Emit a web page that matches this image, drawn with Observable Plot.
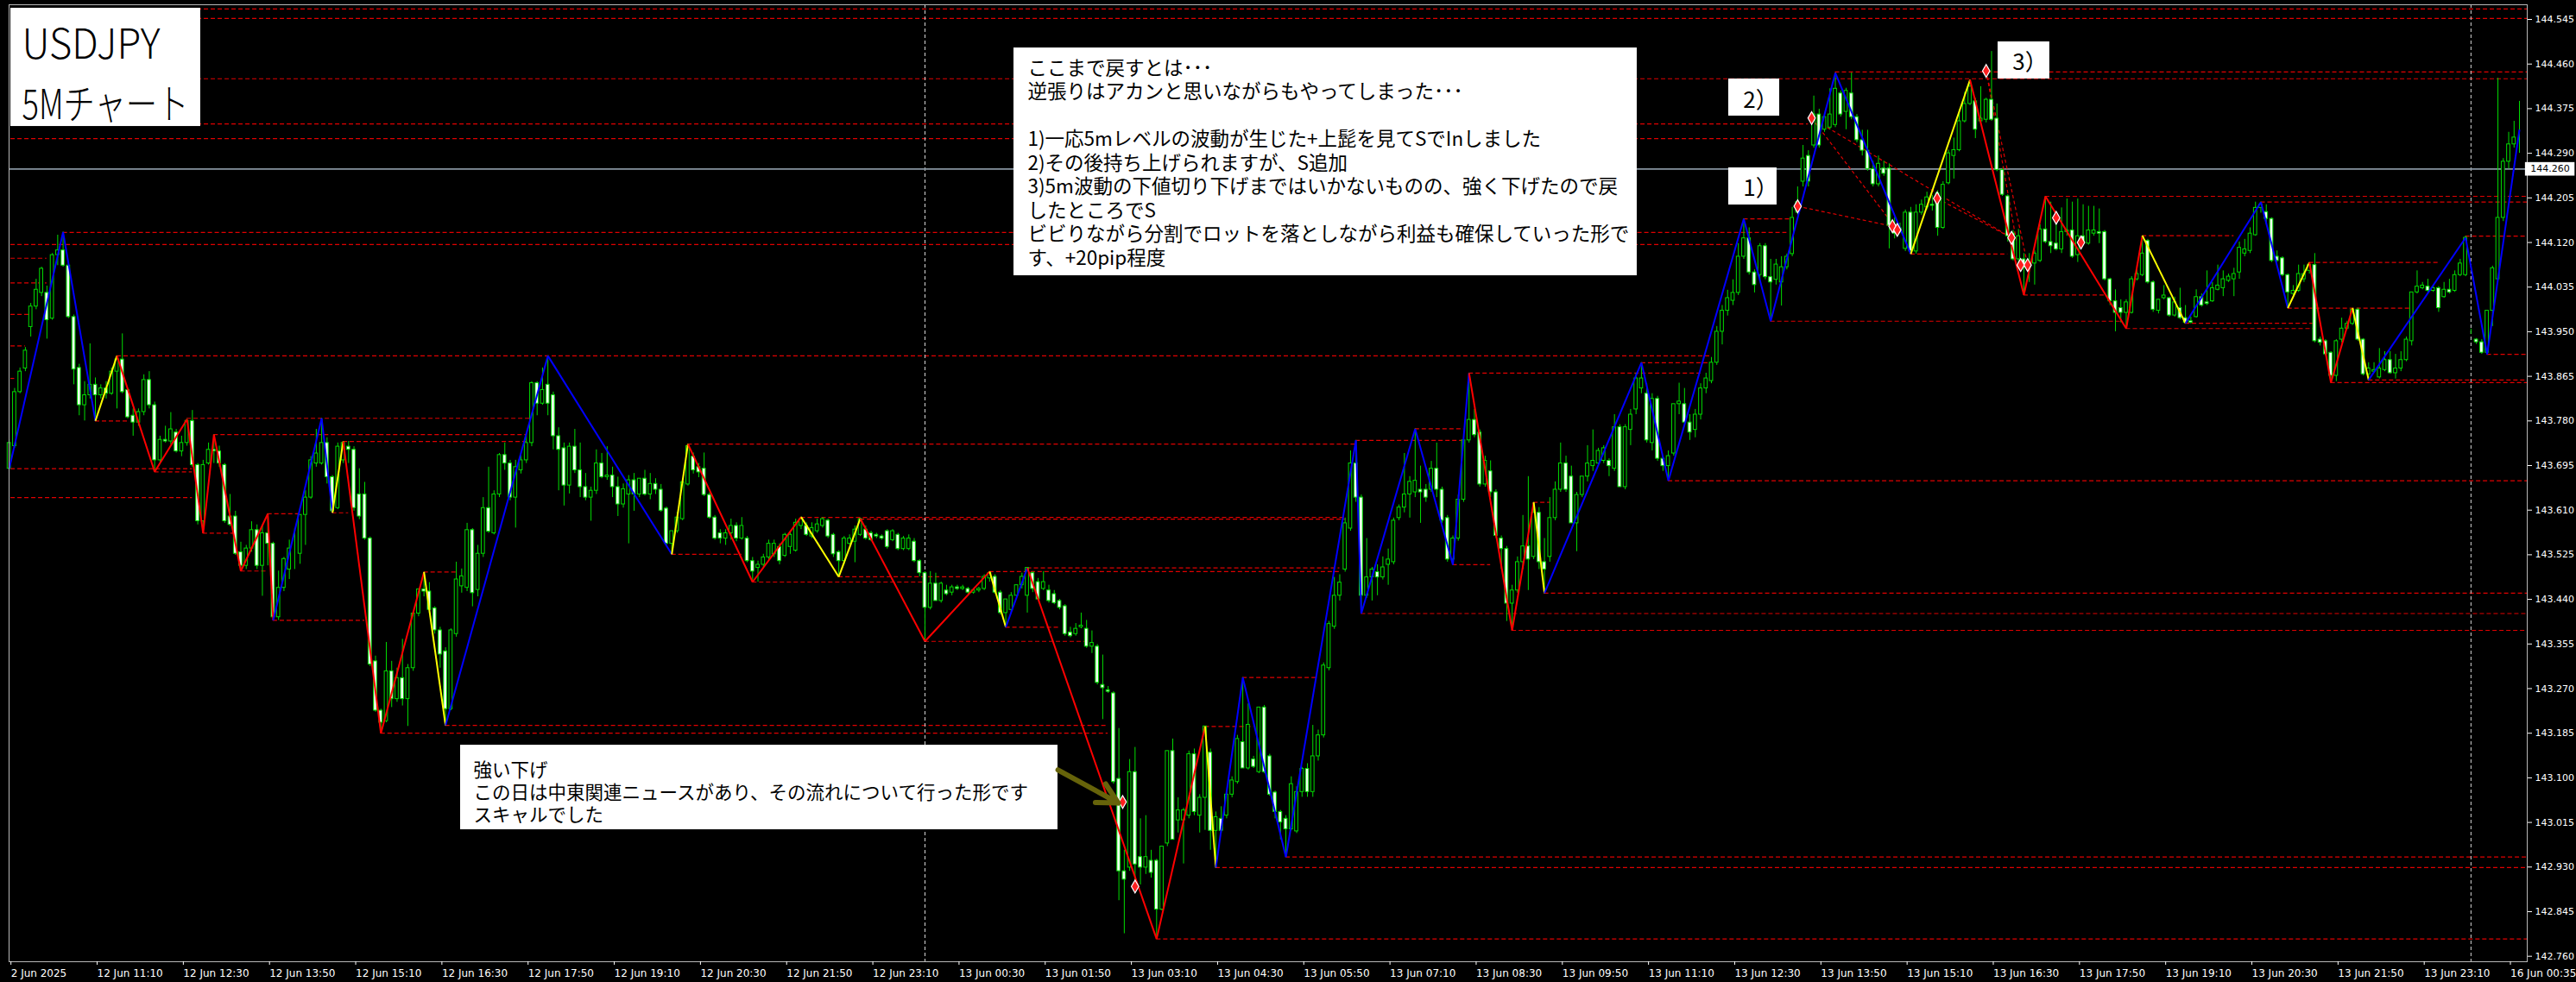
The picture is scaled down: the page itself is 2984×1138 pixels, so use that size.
<!DOCTYPE html>
<html><head><meta charset="utf-8">
<script src="https://cdn.jsdelivr.net/npm/d3@7"></script>
<script src="https://cdn.jsdelivr.net/npm/@observablehq/plot@0.6"></script>
<style>html,body{margin:0;padding:0;background:#000;overflow:hidden}</style>
</head><body><div id="chart"></div>
<script>
// ---- 5-minute USDJPY candles: [open, high, low, close] ----
const ohlc = [
[143.689,143.744,143.689,143.738],[143.732,143.842,143.728,143.835],[143.835,143.881,143.832,143.874],[143.880,143.920,143.874,143.914],[143.959,144.004,143.940,143.998],
[143.998,144.050,143.992,144.030],[144.024,144.073,144.017,144.070],[144.024,144.037,143.936,143.972],[143.975,144.099,143.972,144.096],[144.096,144.134,144.076,144.105],
[144.105,144.140,144.073,144.076],[144.076,144.079,143.975,143.978],[143.978,143.982,143.849,143.878],[143.881,143.888,143.790,143.810],[143.810,143.855,143.780,143.829],
[143.829,143.927,143.822,143.849],[143.849,143.862,143.780,143.829],[143.829,143.849,143.822,143.842],[143.842,143.855,143.822,143.832],[143.832,143.881,143.829,143.874],
[143.874,143.904,143.803,143.897],[143.897,143.946,143.832,143.835],[143.839,143.842,143.784,143.787],[143.790,143.803,143.751,143.777],[143.777,143.803,143.770,143.797],
[143.797,143.868,143.790,143.858],[143.858,143.874,143.803,143.810],[143.810,143.816,143.683,143.705],[143.705,143.751,143.699,143.744],[143.744,143.770,143.738,143.741],
[143.741,143.796,143.735,143.764],[143.758,143.764,143.719,143.722],[143.722,143.751,143.712,143.738],[143.738,143.783,143.732,143.780],[143.780,143.800,143.692,143.696],
[143.696,143.699,143.582,143.589],[143.589,143.705,143.566,143.696],[143.699,143.738,143.696,143.725],[143.725,143.754,143.699,143.722],[143.722,143.732,143.692,143.699],
[143.696,143.699,143.585,143.589],[143.598,143.640,143.579,143.582],[143.598,143.608,143.524,143.527],[143.530,143.549,143.494,143.504],[143.504,143.543,143.497,143.537],
[143.537,143.588,143.530,143.572],[143.572,143.582,143.497,143.504],[143.504,143.582,143.446,143.566],[143.566,143.603,143.504,143.546],[143.546,143.549,143.400,143.406],
[143.406,143.494,143.400,143.462],[143.462,143.520,143.455,143.517],[143.497,143.553,143.478,143.537],[143.533,143.575,143.497,143.533],[143.527,143.601,143.507,143.601],
[143.601,143.647,143.543,143.634],[143.634,143.712,143.631,143.705],[143.699,143.764,143.692,143.718],[143.699,143.785,143.696,143.738],[143.738,143.748,143.660,143.673],
[143.673,143.676,143.605,143.608],[143.614,143.738,143.611,143.731],[143.705,143.741,143.699,143.738],[143.731,143.741,143.699,143.725],[143.725,143.731,143.608,143.614],
[143.640,143.689,143.592,143.598],[143.640,143.663,143.553,143.556],[143.556,143.559,143.312,143.316],[143.322,143.332,143.225,143.228],[143.228,143.231,143.185,143.205],
[143.208,143.358,143.205,143.303],[143.303,143.322,143.234,143.250],[143.250,143.309,143.244,143.290],[143.290,143.364,143.237,143.250],[143.250,143.316,143.198,143.309],
[143.309,143.413,143.303,143.413],[143.413,143.459,143.407,143.459],[143.459,143.492,143.445,143.455],[143.455,143.472,143.413,143.420],[143.423,143.426,143.374,143.381],
[143.381,143.387,143.309,143.335],[143.341,143.348,143.200,143.231],[143.231,143.384,143.228,143.381],[143.374,143.511,143.368,143.478],[143.465,143.498,143.452,143.484],
[143.462,143.585,143.455,143.572],[143.572,143.575,143.426,143.452],[143.458,143.543,143.445,143.527],[143.527,143.634,143.520,143.614],[143.614,143.692,143.566,143.569],
[143.566,143.647,143.563,143.640],[143.640,143.718,143.634,143.715],[143.715,143.738,143.686,143.699],[143.699,143.705,143.628,143.634],[143.634,143.705,143.576,143.692],
[143.686,143.718,143.679,143.705],[143.705,143.757,143.699,143.738],[143.738,143.855,143.731,143.852],[143.852,143.855,143.790,143.813],[143.813,143.881,143.810,143.839],
[143.849,143.904,143.790,143.813],[143.829,143.835,143.725,143.751],[143.751,143.767,143.647,143.725],[143.728,143.738,143.618,143.657],[143.657,143.738,143.641,143.731],
[143.731,143.764,143.680,143.686],[143.686,143.738,143.634,143.654],[143.654,143.680,143.628,143.634],[143.634,143.654,143.589,143.647],[143.647,143.725,143.640,143.699],
[143.699,143.718,143.670,143.673],[143.673,143.731,143.667,143.676],[143.676,143.692,143.634,143.654],[143.654,143.673,143.598,143.621],[143.621,143.660,143.614,143.650],
[143.640,143.676,143.546,143.667],[143.667,143.680,143.608,143.640],[143.640,143.670,143.634,143.670],[143.670,143.686,143.637,143.640],[143.640,143.680,143.630,143.660],
[143.660,143.670,143.640,143.649],[143.649,143.659,143.606,143.609],[143.613,143.616,143.543,143.546],[143.546,143.570,143.526,143.570],[143.570,143.606,143.566,143.596],
[143.593,143.669,143.590,143.663],[143.659,143.736,143.656,143.732],[143.712,143.719,143.679,143.686],[143.692,143.699,143.672,143.682],[143.689,143.719,143.636,143.639],
[143.639,143.643,143.593,143.596],[143.596,143.600,143.553,143.556],[143.566,143.573,143.546,143.556],[143.556,143.573,143.543,143.566],[143.566,143.593,143.553,143.580],
[143.580,143.586,143.550,143.556],[143.556,143.596,143.553,143.580],[143.556,143.560,143.510,143.513],[143.513,143.520,143.473,143.493],[143.500,143.513,143.473,143.506],
[143.506,143.526,143.500,143.520],[143.520,143.553,143.513,143.546],[143.526,143.553,143.520,143.546],[143.540,143.546,143.506,143.513],[143.523,143.566,143.520,143.563],
[143.540,143.570,143.526,143.563],[143.533,143.593,143.530,143.586],[143.580,143.597,143.573,143.593],[143.580,143.586,143.560,143.563],[143.560,143.586,143.556,143.576],
[143.570,143.593,143.566,143.583],[143.580,143.596,143.576,143.593],[143.590,143.593,143.556,143.560],[143.563,143.566,143.520,143.526],[143.530,143.533,143.483,143.513],
[143.513,143.560,143.506,143.556],[143.546,143.563,143.543,143.556],[143.550,143.580,143.510,143.573],[143.563,143.594,143.560,143.593],[143.573,143.580,143.553,143.556],
[143.566,143.570,143.550,143.553],[143.563,143.566,143.556,143.560],[143.560,143.563,143.553,143.556],[143.570,143.573,143.536,143.540],[143.553,143.573,143.550,143.570],
[143.563,143.566,143.533,143.536],[143.536,143.560,143.533,143.556],[143.536,143.563,143.533,143.556],[143.550,143.556,143.510,143.513],[143.513,143.516,143.483,143.490],
[143.490,143.493,143.360,143.424],[143.424,143.493,143.420,143.470],[143.470,143.490,143.437,143.437],[143.437,143.473,143.433,143.470],[143.457,143.467,143.447,143.450],
[143.453,143.467,143.447,143.463],[143.463,143.467,143.457,143.460],[143.460,143.467,143.457,143.463],[143.460,143.463,143.450,143.453],[143.453,143.460,143.450,143.457],
[143.457,143.463,143.453,143.460],[143.460,143.487,143.457,143.483],[143.480,143.493,143.473,143.490],[143.483,143.487,143.450,143.453],[143.453,143.457,143.410,143.414],
[143.414,143.440,143.387,143.440],[143.420,143.453,143.414,143.447],[143.447,143.467,143.440,143.467],[143.467,143.490,143.460,143.483],[143.447,143.500,143.414,143.500],
[143.490,143.493,143.453,143.460],[143.473,143.480,143.437,143.440],[143.460,143.493,143.457,143.473],[143.457,143.467,143.433,143.437],[143.450,143.457,143.430,143.433],
[143.437,143.440,143.420,143.424],[143.427,143.430,143.370,143.374],[143.377,143.387,143.367,143.370],[143.374,143.394,143.370,143.384],[143.387,143.414,143.384,143.390],
[143.384,143.400,143.347,143.350],[143.350,143.380,143.337,143.357],[143.350,143.354,143.277,143.281],[143.277,143.334,143.211,143.271],[143.267,143.274,143.261,143.264],
[143.261,143.264,143.088,143.092],[143.098,143.194,142.866,142.922],[142.922,142.962,142.803,142.906],[142.929,143.135,142.922,143.111],[143.111,143.158,142.902,142.935],
[142.949,143.022,142.896,142.929],[142.929,143.028,142.916,142.949],[142.942,142.962,142.909,142.919],[142.942,142.945,142.793,142.849],[142.849,142.969,142.846,142.969],
[142.975,143.151,142.969,143.151],[143.151,143.174,142.982,142.982],[143.019,143.062,142.995,143.038],[143.019,143.042,142.936,143.038],[143.028,143.151,143.022,143.145],
[143.145,143.155,143.028,143.035],[143.028,143.068,142.995,143.062],[143.062,143.198,143.000,143.198],[143.148,143.155,142.962,142.999],[142.999,143.035,142.929,143.025],
[143.022,143.045,142.995,142.999],[143.028,143.075,143.022,143.068],[143.068,143.102,143.062,143.095],[143.092,143.181,143.088,143.174],[143.168,143.291,143.118,143.118],
[143.118,143.241,143.115,143.201],[143.135,143.141,143.118,143.121],[143.111,143.234,143.108,143.234],[143.234,143.238,143.108,143.111],[143.141,143.145,143.065,143.068],
[143.072,143.075,143.022,143.035],[143.035,143.038,142.982,143.015],[143.022,143.028,142.949,143.002],[143.002,143.102,142.999,143.088],[142.998,143.083,142.994,143.073],
[143.073,143.120,143.063,143.117],[143.117,143.127,143.063,143.073],[143.073,143.200,143.063,143.141],[143.141,143.191,143.132,143.181],[143.181,143.319,143.176,143.314],
[143.309,143.398,143.304,143.393],[143.388,143.482,143.383,143.447],[143.447,143.487,143.437,143.472],[143.497,143.595,143.492,143.585],[143.575,143.723,143.570,143.699],
[143.699,143.743,143.625,143.634],[143.634,143.639,143.413,143.447],[143.447,143.556,143.442,143.482],[143.482,143.501,143.437,143.497],[143.492,143.506,143.447,143.482],
[143.482,143.521,143.477,143.501],[143.506,143.536,143.467,143.516],[143.511,143.595,143.506,143.590],[143.595,143.620,143.590,143.615],[143.615,143.718,143.605,143.640],
[143.640,143.674,143.595,143.664],[143.644,143.765,143.634,143.666],[143.649,143.694,143.585,143.644],[143.649,143.659,143.625,143.634],[143.649,143.703,143.644,143.689],
[143.689,143.738,143.634,143.649],[143.649,143.654,143.585,143.590],[143.595,143.600,143.511,143.516],[143.516,143.561,143.506,143.556],[143.556,143.639,143.551,143.630],
[143.630,143.748,143.625,143.743],[143.743,143.871,143.738,143.782],[143.782,143.802,143.748,143.753],[143.758,143.763,143.654,143.659],[143.659,143.713,143.654,143.704],
[143.684,143.704,143.634,143.644],[143.644,143.649,143.556,143.561],[143.556,143.561,143.497,143.536],[143.536,143.541,143.398,143.432],[143.432,143.467,143.381,143.457],
[143.457,143.521,143.452,143.511],[143.511,143.600,143.497,143.541],[143.541,143.674,143.457,143.516],[143.521,143.625,143.516,143.605],[143.605,143.615,143.497,143.511],
[143.511,143.556,143.452,143.497],[143.521,143.634,143.511,143.595],[143.595,143.664,143.590,143.649],[143.649,143.738,143.644,143.699],[143.699,143.713,143.644,143.649],
[143.674,143.694,143.585,143.585],[143.585,143.644,143.531,143.639],[143.639,143.674,143.634,143.674],[143.674,143.733,143.664,143.699],[143.694,143.763,143.684,143.704],
[143.699,143.728,143.694,143.723],[143.704,143.733,143.699,143.728],[143.704,143.708,143.674,143.694],[143.689,143.792,143.684,143.768],[143.768,143.773,143.654,143.654],
[143.654,143.773,143.649,143.768],[143.763,143.802,143.733,143.792],[143.802,143.871,143.792,143.861],[143.842,143.891,143.832,143.861],[143.832,143.851,143.738,143.743],
[143.738,143.832,143.723,143.822],[143.822,143.827,143.703,143.708],[143.708,143.713,143.684,143.694],[143.694,143.723,143.666,143.713],[143.718,143.812,143.713,143.812],
[143.812,143.852,143.792,143.817],[143.812,143.842,143.773,143.777],[143.777,143.792,143.743,143.758],[143.763,143.802,143.748,143.792],[143.792,143.851,143.782,143.842],
[143.842,143.871,143.832,143.861],[143.856,143.901,143.851,143.891],[143.891,143.960,143.886,143.950],[143.950,144.000,143.925,143.990],[143.990,144.029,143.980,144.014],
[144.009,144.049,144.000,144.024],[144.024,144.118,144.019,144.093],[144.093,144.165,144.088,144.128],[144.128,144.148,144.058,144.063],[144.063,144.068,144.024,144.039],
[144.058,144.118,144.049,144.113],[144.113,144.118,144.049,144.054],[144.054,144.088,143.970,144.044],[144.049,144.088,144.039,144.078],[144.044,144.093,143.999,144.073],
[144.073,144.098,144.068,144.093],[144.098,144.187,144.093,144.167],[144.177,144.226,144.172,144.197],[144.236,144.305,144.226,144.280],[144.285,144.295,144.226,144.236],
[144.305,144.399,144.300,144.364],[144.364,144.374,144.300,144.305],[144.335,144.359,144.330,144.359],[144.339,144.413,144.335,144.364],[144.344,144.443,144.339,144.413],
[144.404,144.409,144.359,144.364],[144.369,144.414,144.335,144.409],[144.404,144.443,144.354,144.359],[144.359,144.364,144.310,144.315],[144.315,144.334,144.285,144.295],
[144.295,144.334,144.256,144.260],[144.260,144.275,144.226,144.231],[144.231,144.285,144.226,144.270],[144.261,144.275,144.246,144.251],[144.261,144.270,144.108,144.152],
[144.152,144.167,144.127,144.137],[144.142,144.157,144.137,144.147],[144.108,144.182,144.103,144.177],[144.177,144.187,144.098,144.103],[144.103,144.192,144.098,144.177],
[144.177,144.201,144.172,144.192],[144.187,144.216,144.182,144.206],[144.192,144.210,144.180,144.190],[144.214,144.219,144.132,144.148],[144.148,144.236,144.145,144.230],
[144.233,144.296,144.230,144.290],[144.285,144.319,144.241,144.296],[144.296,144.373,144.293,144.351],[144.351,144.406,144.348,144.384],[144.384,144.430,144.381,144.417],
[144.389,144.395,144.318,144.335],[144.351,144.417,144.348,144.356],[144.354,144.395,144.348,144.392],[144.392,144.484,144.351,144.354],[144.356,144.384,144.255,144.258],
[144.258,144.261,144.208,144.211],[144.208,144.211,144.121,144.132],[144.137,144.143,144.085,144.088],[144.088,144.145,144.077,144.132],[144.088,144.099,144.020,144.077],
[144.074,144.099,144.044,144.082],[144.080,144.104,144.039,144.099],[144.085,144.154,144.082,144.145],[144.145,144.208,144.118,144.121],[144.121,144.197,144.099,144.113],
[144.118,144.175,144.104,144.107],[144.107,144.186,144.099,144.140],[144.140,144.203,144.132,144.143],[144.143,144.197,144.090,144.093],[144.096,144.203,144.082,144.132],
[144.132,144.192,144.115,144.118],[144.118,144.189,144.115,144.143],[144.137,144.189,144.132,144.143],[144.140,144.184,144.118,144.137],[144.140,144.143,144.047,144.050],
[144.050,144.052,144.000,144.008],[144.008,144.030,143.950,143.986],[143.995,144.011,143.967,143.986],[143.986,144.011,143.956,144.006],[143.986,144.055,143.984,144.050],
[144.050,144.077,144.047,144.060],[144.058,144.133,144.055,144.099],[144.123,144.126,144.041,144.044],[144.044,144.047,143.987,143.992],[143.990,144.011,143.984,144.011],
[144.014,144.038,144.011,144.019],[144.014,144.016,143.978,143.981],[143.981,144.016,143.978,144.006],[143.995,144.033,143.973,143.976],[143.976,144.000,143.965,143.967],
[143.970,143.978,143.965,143.967],[143.978,144.030,143.976,144.016],[144.016,144.022,143.997,144.000],[144.006,144.066,144.000,144.003],[144.008,144.044,144.006,144.033],
[144.030,144.077,144.028,144.038],[144.033,144.066,144.017,144.050],[144.047,144.060,144.044,144.055],[144.050,144.071,144.017,144.060],[144.063,144.121,144.050,144.110],
[144.099,144.126,144.093,144.107],[144.104,144.148,144.099,144.137],[144.134,144.197,144.132,144.186],[144.186,144.197,144.176,144.192],[144.178,144.192,144.154,144.165],
[144.165,144.167,144.082,144.085],[144.093,144.104,144.082,144.085],[144.090,144.093,144.055,144.058],[144.058,144.060,143.995,144.025],[144.022,144.038,144.019,144.028],
[144.028,144.077,144.025,144.060],[144.050,144.077,144.044,144.060],[144.066,144.082,144.060,144.077],[144.077,144.099,143.929,143.932],[143.935,143.940,143.923,143.929],
[143.932,143.935,143.904,143.907],[143.910,143.912,143.853,143.866],[143.866,143.935,143.855,143.932],[143.935,143.976,143.929,143.956],[143.956,143.970,143.954,143.965],
[143.965,143.995,143.962,143.992],[143.992,143.995,143.932,143.935],[143.935,143.937,143.866,143.869],[143.869,143.891,143.858,143.880],[143.874,143.891,143.871,143.877],
[143.863,143.918,143.860,143.880],[143.877,143.912,143.874,143.896],[143.896,143.912,143.869,143.871],[143.871,143.907,143.860,143.880],[143.880,143.912,143.874,143.896],
[143.896,143.940,143.893,143.935],[143.932,144.025,143.923,144.025],[144.025,144.066,144.022,144.036],[144.033,144.044,144.030,144.038],[144.036,144.050,144.022,144.028],
[144.028,144.038,144.025,144.033],[144.033,144.036,143.987,143.995],[144.016,144.044,144.014,144.030],[144.030,144.050,144.022,144.025],[144.028,144.066,144.025,144.058],
[144.058,144.088,144.055,144.080],[144.058,144.132,144.055,144.129],[143.950,143.955,143.945,143.950],[143.935,143.937,143.926,143.930],[143.930,143.935,143.907,143.910],
[143.910,143.990,143.907,143.990],[143.990,144.075,143.960,144.071],[144.050,144.433,144.045,144.167],[144.167,144.280,144.160,144.274],[144.274,144.330,144.260,144.307],
[144.307,144.351,144.300,144.320],[144.310,144.389,144.290,144.310]
];

// ---- axis ticks ----
const xTickIdx = [0,16,32,48,64,80,96,112,128,144,160,176,192,208,224,240,256,272,288,304,320,336,352,368,384,400,416,432,448,464];
const xLabels = ["2 Jun 2025","12 Jun 11:10","12 Jun 12:30","12 Jun 13:50","12 Jun 15:10","12 Jun 16:30","12 Jun 17:50","12 Jun 19:10","12 Jun 20:30","12 Jun 21:50","12 Jun 23:10","13 Jun 00:30","13 Jun 01:50","13 Jun 03:10","13 Jun 04:30","13 Jun 05:50","13 Jun 07:10","13 Jun 08:30","13 Jun 09:50","13 Jun 11:10","13 Jun 12:30","13 Jun 13:50","13 Jun 15:10","13 Jun 16:30","13 Jun 17:50","13 Jun 19:10","13 Jun 20:30","13 Jun 21:50","13 Jun 23:10","16 Jun 00:35"];
const yTicks = [144.545,144.460,144.375,144.290,144.205,144.120,144.035,143.950,143.865,143.780,143.695,143.610,143.525,143.440,143.355,143.270,143.185,143.100,143.015,142.930,142.845,142.760];

// ---- zigzag swing points ----
const zzIdx = [0,10,16,20,27,33,36,38,43,48,49,58,60,62,69,77,81,100,123,126,138,147,154,158,170,182,185,189,213,222,224,229,237,250,251,261,268,271,279,283,285,303,308,322,327,339,353,364,374,378,393,396,404,418,423,427,431,435,438,456,460,466];
const zzPrice = [143.689,144.14,143.78,143.904,143.683,143.783,143.566,143.754,143.494,143.603,143.40,143.785,143.605,143.741,143.185,143.492,143.2,143.904,143.526,143.736,143.473,143.597,143.483,143.594,143.36,143.493,143.387,143.5,142.793,143.198,142.929,143.291,142.949,143.743,143.413,143.765,143.506,143.871,143.381,143.625,143.452,143.891,143.666,144.165,143.97,144.443,144.098,144.43,144.02,144.208,143.956,144.133,143.966,144.197,143.995,144.082,143.853,143.995,143.858,144.129,143.907,144.335];
const zzColor = "BBYRRRRRRRBBYRRYBBYRRYYRRYBRRYBBBBBBBRRYBBBBBBYRRRRYBBYRRYBBB".split("");
const zzPalette = {B: "#0000ff", R: "#ff0000", Y: "#ffff00"};

// ---- horizontal dashed levels: [price, fromBar, toBar] ----
const L = 0.3, R = 467.44;
const levels = [
[144.565,L,R],[144.547,L,R],[144.432,L,R],[144.445,339,R],[144.346,L,334],[144.318,L,334],[144.208,378,R],[144.197,418,R],
[144.165,322,331],[144.139,10,330],[144.133,396,413],[144.132,456,R],[144.116,L,320],[144.098,353,371],[144.09,L,7],[144.082,427,451],
[144.043,L,7],[144.02,374,389],[143.995,423,446],[143.983,L,4],[143.97,327,392],[143.966,404,428],[143.956,393,428],[143.923,L,3],
[143.907,460,R],[143.904,20,316],[143.891,303,316],[143.871,271,314],[143.861,L,1],[143.858,438,R],[143.853,431,R],[143.785,33,97],
[143.78,16,22],[143.765,261,270],[143.754,38,96],[143.743,250,270],[143.741,62,96],[143.736,126,250],[143.689,L,34],[143.683,27,34],
[143.666,308,R],[143.634,L,34],[143.625,283,286],[143.605,60,63],[143.603,48,54],[143.596,147,248],[143.593,158,248],[143.566,36,42],
[143.526,123,136],[143.506,268,275],[143.5,189,247],[143.494,43,48],[143.493,182,247],[143.492,77,83],[143.483,154,181],[143.473,138,170],
[143.452,285,R],[143.413,251,R],[143.40,49,66],[143.387,185,195],[143.381,279,R],[143.36,170,200],[143.291,229,243],[143.2,81,204],
[143.198,222,231],[143.185,69,204],[142.949,237,R],[142.929,224,R],[142.793,213,R]
];

const daySeparators = [170, 457];
const bidPrice = 144.26;

// ---- trade markers and trade lines ----
const tradeMarks = [[206.7,143.054],[332,144.189],[334.6,144.357],[357.9,144.204],[349.6,144.151],[350.5,144.144],[367,144.447],[371.7,144.129],[373.4,144.077],[374.7,144.077],[380,144.167],[384.6,144.12],[209,142.893]];
const tradeLines = [[332,144.189,349.6,144.151],[334.6,144.357,350.5,144.144],[334.6,144.357,371.7,144.129],[357.9,144.204,371.7,144.129],[367,144.447,373.4,144.077],[367,144.447,374.7,144.077]];

// ---- annotations (bar index / price anchors) ----
const titleLines = ["USDJPY", "5Mチャート"];
const noteLines = ["ここまで戻すとは･･･","逆張りはアカンと思いながらもやってしまった･･･","","1)一応5mレベルの波動が生じた+上髭を見てSでInしました","2)その後持ち上げられますが、S追加","3)5m波動の下値切り下げまではいかないものの、強く下げたので戻","したところでS","ビビりながら分割でロットを落としながら利益も確保していった形で","す、+20pip程度"];
const lowerLines = ["強い下げ","この日は中東関連ニュースがあり、その流れについて行った形です","スキャルでした"];
const stepLabels = [["1）",321.9,144.208],["2）",321.9,144.3757],["3）",371.9,144.4496]];
const boxes = [
  [0.29,35.54,144.5664,144.3411],   // title
  [186.51,302.21,144.4907,144.0567],// note
  [83.78,194.68,143.1622,143.0011], // lower note
  [319.2,328.66,144.4316,144.3609], // 2)
  [319.2,328.17,144.2622,144.1915], // 1)
  [369.2,378.8,144.5023,144.4316]   // 3)
];
const arrowLink = [194.7,143.115,205.9,143.052];

// ---- build ----
const bars = ohlc.map(([o,h,l,c], i) => ({i,o,h,l,c}));
const segs = zzIdx.slice(1).map((_, k) => ({x1: zzIdx[k], y1: zzPrice[k], x2: zzIdx[k+1], y2: zzPrice[k+1], color: zzPalette[zzColor[k]]}));
const lv = levels.map(([p,s,e]) => ({p,s,e}));
const GREEN = "#00dc00";
const JP = "Noto Sans CJK JP";

const chart = Plot.plot({
  width: 2984, height: 1138,
  marginLeft: 10, marginRight: 57, marginTop: 5, marginBottom: 24,
  style: {background: "#000", color: "#fff", fontFamily: "DejaVu Sans", fontSize: "11px"},
  x: {domain: [-0.03, 467.44], axis: null},
  y: {domain: [142.7496, 144.573], axis: null},
  marks: [
    Plot.ruleY(lv, {y: "p", x1: "s", x2: "e", stroke: "#e00000", strokeWidth: 1.2, strokeDasharray: "5,3"}),
    Plot.ruleX(daySeparators, {x: d => d, stroke: "#d8d8d8", strokeWidth: 1, strokeDasharray: "4,3"}),
    Plot.ruleY([bidPrice], {y: d => d, stroke: "#8794a0", strokeWidth: 1.6}),
    Plot.link(tradeLines, {x1: d => d[0], y1: d => d[1], x2: d => d[2], y2: d => d[3], stroke: "#e00000", strokeWidth: 1.2, strokeDasharray: "4,3"}),
    Plot.ruleX(bars, {x: "i", y1: "l", y2: "h", stroke: GREEN, strokeWidth: 1}),
    Plot.rect(bars, {x1: d => d.i - 0.3, x2: d => d.i + 0.3, y1: d => Math.min(d.o, d.c), y2: d => Math.max(d.o, d.c),
      fill: d => d.c >= d.o ? "#000000" : "#f0fff0", stroke: GREEN, strokeWidth: 1}),
    Plot.link(segs, {x1: "x1", y1: "y1", x2: "x2", y2: "y2", stroke: "color", strokeWidth: 2}),
    Plot.dot(tradeMarks, {x: d => d[0], y: d => d[1], symbol: "diamond", r: 4.5, fill: "#ff2020", stroke: "#ffffff", strokeWidth: 1.2}),
    Plot.rect(boxes, {x1: d => d[0], x2: d => d[1], y1: d => d[2], y2: d => d[3], fill: "#ffffff"}),
    Plot.text([titleLines[0]], {x: 2.37, y: 144.471, text: d => d, textAnchor: "start", lineAnchor: "bottom", fontSize: 48, fill: "#000", fontFamily: JP, fontWeight: 300}),
    Plot.text([titleLines[1]], {x: 2.37, y: 144.3559, text: d => d, textAnchor: "start", lineAnchor: "bottom", fontSize: 48, fill: "#000", fontFamily: JP, fontWeight: 300}),
    Plot.text([noteLines.join("\n")], {x: 189.07, y: 144.4718, text: d => d, textAnchor: "start", lineAnchor: "top", lineHeight: 1.2222, fontSize: 22.5, fill: "#000", fontFamily: JP}),
    Plot.text([lowerLines.join("\n")], {x: 86.19, y: 143.1333, text: d => d, textAnchor: "start", lineAnchor: "top", lineHeight: 1.2222, fontSize: 21.5, fill: "#000", fontFamily: JP}),
    Plot.text(stepLabels, {x: d => d[1], y: d => d[2], text: d => d[0], textAnchor: "start", lineAnchor: "bottom", fontSize: 26, fill: "#000", fontFamily: JP}),
    Plot.arrow([arrowLink], {x1: d => d[0], y1: d => d[1], x2: d => d[2], y2: d => d[3], stroke: "#66630a", strokeWidth: 6, headLength: 22, headAngle: 55}),
    Plot.frame({stroke: "#b8b8b8", strokeWidth: 1}),
    Plot.axisY(yTicks, {anchor: "right", tickFormat: d3.format(".3f"), tickSize: 5, tickPadding: 4, label: null, fontSize: 11}),
    Plot.axisX(xTickIdx, {anchor: "bottom", tickFormat: d => xLabels[xTickIdx.indexOf(d)], textAnchor: "start", tickSize: 4, tickPadding: 5, dx: 2, label: null, fontSize: 12}),
    Plot.rect([bidPrice], {x1: 467.1, x2: 476.3, y1: d => d + 0.0124, y2: d => d - 0.0134, fill: "#ffffff"}),
    Plot.text([bidPrice], {x: 471.7, y: d => d, text: d => d3.format(".3f")(d), fill: "#000", fontSize: 11, textAnchor: "middle"})
  ]
});
document.getElementById("chart").appendChild(chart);
// fit title text to the narrow label box
d3.select(chart).selectAll("text").each(function () {
  if (this.textContent === titleLines[0]) { this.setAttribute("textLength", 160); this.setAttribute("lengthAdjust", "spacingAndGlyphs"); }
  if (this.textContent === titleLines[1]) { this.setAttribute("textLength", 193); this.setAttribute("lengthAdjust", "spacingAndGlyphs"); }
});
</script>
</body></html>
